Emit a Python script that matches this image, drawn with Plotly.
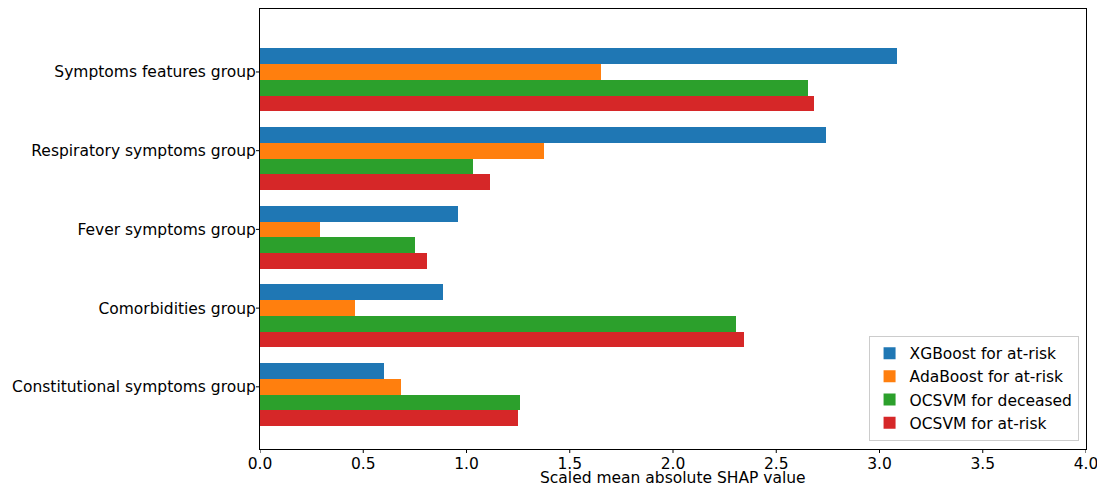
import plotly.graph_objects as go

# feature groups, top to bottom
groups = [
    "Symptoms features group",
    "Respiratory symptoms group",
    "Fever symptoms group",
    "Comorbidities group",
    "Constitutional symptoms group",
]

# scaled mean |SHAP| per model
xgb_at_risk = [3.085, 2.741, 0.961, 0.888, 0.602]
ada_at_risk = [1.650, 1.373, 0.291, 0.460, 0.685]
ocsvm_deceased = [2.655, 1.033, 0.749, 2.304, 1.257]
ocsvm_at_risk = [2.685, 1.115, 0.811, 2.343, 1.247]

models = [
    ("XGBoost for at-risk", xgb_at_risk, "#1f77b4"),
    ("AdaBoost for at-risk", ada_at_risk, "#ff7f0e"),
    ("OCSVM for deceased", ocsvm_deceased, "#2ca02c"),
    ("OCSVM for at-risk", ocsvm_at_risk, "#d62728"),
]

x_ticks = [0, 0.5, 1.0, 1.5, 2.0, 2.5, 3.0, 3.5, 4.0]

W, H = 1097, 486
ML, MR, MT, MB = 260, 11, 9, 37
plot_w = W - ML - MR
plot_h = H - MT - MB
tick_px = 4

bar_h = 0.2
fig = go.Figure()
for i, (name, vals, color) in enumerate(models):
    # bars stacked downwards, tick sits on the 2nd bar
    pos = [k + (i - 1) * bar_h for k in range(len(groups))]
    fig.add_trace(go.Bar(
        x=vals, y=pos, orientation="h", width=bar_h,
        name=name, marker=dict(color=color, line=dict(width=0)),
    ))

fig.update_layout(
    width=W, height=H,
    margin=dict(l=ML, r=MR, t=MT, b=MB),
    plot_bgcolor="white", paper_bgcolor="white",
    font=dict(family="DejaVu Sans", size=15.5, color="black"),
    showlegend=True,
    legend=dict(
        x=0.991, y=0.019, xanchor="right", yanchor="bottom",
        bordercolor="#cccccc", borderwidth=1, bgcolor="rgba(255,255,255,0.8)",
        font=dict(size=15.5), traceorder="normal", tracegroupgap=0,
    ),
    bargap=0,
)
fig.update_xaxes(
    range=[0, 4], tickvals=x_ticks, ticktext=[f"{v:.1f}" for v in x_ticks],
    showline=True, linecolor="black", linewidth=1, mirror=True,
    ticks="", showgrid=False, zeroline=False,
    automargin=False, ticklabeloverflow="allow",
)
fig.update_yaxes(
    range=[4.79, -0.80], tickvals=list(range(len(groups))), ticktext=groups,
    showline=True, linecolor="black", linewidth=1, mirror=True,
    ticks="", showgrid=False, zeroline=False,
    automargin=False,
)

# matplotlib-style short outside tick marks
for v in x_ticks:
    fig.add_shape(type="line", xref="x", yref="paper", x0=v, x1=v,
                  y0=0, y1=-tick_px / plot_h, line=dict(color="black", width=1))
for k in range(len(groups)):
    fig.add_shape(type="line", xref="paper", yref="y", y0=k, y1=k,
                  x0=0, x1=-tick_px / plot_w, line=dict(color="black", width=1))

fig.add_annotation(
    text="Scaled mean absolute SHAP value", xref="paper", yref="paper",
    x=0.5, y=-0.065, xanchor="center", yanchor="middle", showarrow=False,
    font=dict(size=15.5),
)

# drop the default 8px page margin so the figure fills the window
fig.write_html("out.html", config={"displayModeBar": False},
               post_script="document.body.style.margin='0';document.body.style.overflow='hidden';")
